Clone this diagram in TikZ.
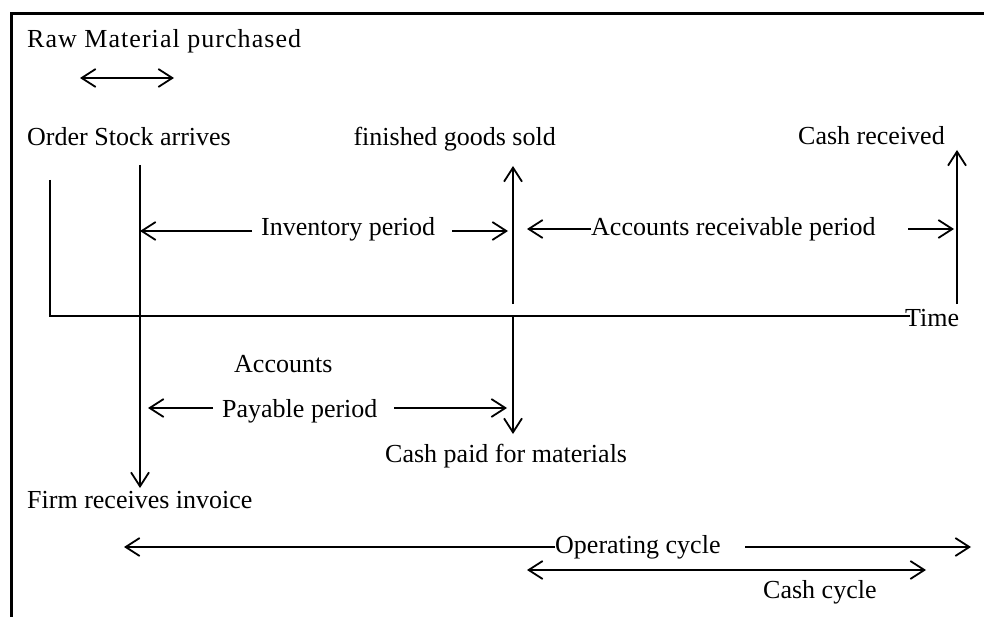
\documentclass[tikz,border=0pt]{standalone}
\usepackage{fontspec}
\setmainfont{Liberation Serif}
\usetikzlibrary{arrows.meta}
\begin{document}
\begin{tikzpicture}[x=1pt,y=-1pt,
  lbl/.style={anchor=base west, inner sep=0pt, font=\fontsize{26}{30}\selectfont},
  lble/.style={lbl, anchor=base east},
  tipend/.style={line width=1.8pt, -{Straight Barb[length=14pt,width=18pt]}},
  tipboth/.style={line width=1.8pt, {Straight Barb[length=14pt,width=18pt]}-{Straight Barb[length=14pt,width=18pt]}},
  axisln/.style={line width=1.5pt},
  frame/.style={line width=3pt}]
\useasboundingbox (0,0) rectangle (984,617);

% frame (top and left edges)
\coordinate (fr1) at (11,617);
\coordinate (fr2) at (11,13.5);
\coordinate (fr3) at (984,13.5);
\draw[frame] (fr1) -- (fr2) -- (fr3);

% texts
\node[lbl]  (raw)   at (27,48)   {\addfontfeature{LetterSpace=4}Raw Material purchased};
\node[lbl]  (order) at (27,146)  {Order Stock arrives};
\node[lble] (fgs)   at (556,146) {finished goods sold};
\node[lbl]  (cashr) at (798,145) {Cash received};
\node[lbl]  (inv)   at (261,236) {Inventory period};
\node[lbl]  (arp)   at (591,236) {Accounts receivable period};
\node[lbl]  (time)  at (905,326) {Time};
\node[lbl]  (acc)   at (234,372) {Accounts};
\node[lbl]  (pay)   at (222,417) {Payable period};
\node[lbl]  (cpm)   at (385,462) {Cash paid for materials};
\node[lbl]  (firm)  at (27,508)  {Firm receives invoice};
\node[lbl]  (opc)   at (555,553) {Operating cycle};
\node[lbl]  (cc)    at (763,598) {Cash cycle};

% key points
\coordinate (rawL) at (80,78);
\coordinate (rawR) at (174,78);
\coordinate (ytop) at (50,180);
\coordinate (orig) at (50,316);
\coordinate (axE)  at (910,316);
\coordinate (ordT) at (140,165);
\coordinate (ordB) at (140,488);
\coordinate (fgA)  at (513,304);
\coordinate (fgT)  at (513,166);
\coordinate (fgB0) at (513,316);
\coordinate (fgB)  at (513,434);
\coordinate (crB)  at (957,304);
\coordinate (crT)  at (957,150);
\coordinate (invL) at (140,231);
\coordinate (invA) at (252,231);
\coordinate (invB) at (452,231);
\coordinate (invR) at (508,231);
\coordinate (arL)  at (527,229);
\coordinate (arA)  at (591,229);
\coordinate (arB)  at (908,229);
\coordinate (arR)  at (954,229);
\coordinate (payL) at (148,408);
\coordinate (payA) at (213,408);
\coordinate (payB) at (394,408);
\coordinate (payR) at (507,408);
\coordinate (opL)  at (124,547);
\coordinate (opA)  at (555,547);
\coordinate (opB)  at (745,547);
\coordinate (opR)  at (971,547);
\coordinate (ccL)  at (527,570);
\coordinate (ccR)  at (926,570);

% raw material double arrow
\draw[tipboth] (rawL) -- (rawR);

% axes
\draw[axisln] (ytop) -- (orig) -- (axE);

% vertical markers
\draw[tipend] (ordT) -- (ordB);
\draw[tipend] (fgA) -- (fgT);
\draw[tipend] (fgB0) -- (fgB);
\draw[tipend] (crB) -- (crT);

% period arrows
\draw[tipend] (invA) -- (invL);
\draw[tipend] (invB) -- (invR);
\draw[tipend] (arA) -- (arL);
\draw[tipend] (arB) -- (arR);
\draw[tipend] (payA) -- (payL);
\draw[tipend] (payB) -- (payR);
\draw[tipend] (opA) -- (opL);
\draw[tipend] (opB) -- (opR);
\draw[tipboth] (ccL) -- (ccR);
\end{tikzpicture}
\end{document}
